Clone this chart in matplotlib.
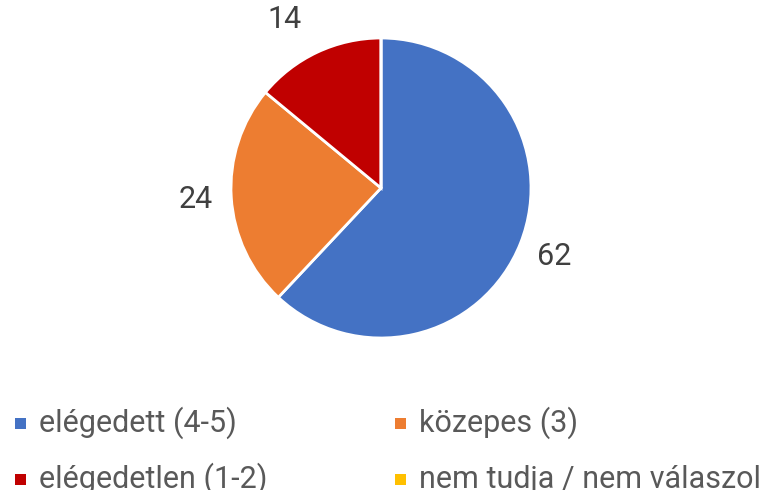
import matplotlib.pyplot as plt
from matplotlib.patches import Rectangle

categories = ['elégedett (4-5)', 'közepes (3)', 'elégedetlen (1-2)', 'nem tudja / nem válaszol']
values = [62, 24, 14, 0]
colors = ['#4472C4', '#ED7D31', '#C00000', '#FFC000']

plt.rcParams['font.family'] = ['Roboto', 'DejaVu Sans']

W, H = 764, 490
fig = plt.figure(figsize=(W / 100, H / 100), dpi=100)

# pie centred at (381, 188) px, radius 150 px
cx, cy, r = 381, 188, 150
ax = fig.add_axes([(cx - r) / W, (H - cy - r) / H, 2 * r / W, 2 * r / H])
labels = [str(v) if v else '' for v in values]
wedges, texts = ax.pie(values, labels=labels, colors=colors, startangle=90, counterclock=False,
                       labeldistance=1.24, wedgeprops=dict(edgecolor='white', linewidth=2),
                       textprops=dict(fontsize=22, color='#404040'))
for t in texts:
    x, y = t.get_position()
    # labels beside the pie are centred, those near the top keep edge alignment
    if abs(x) > 0.6:
        t.set_ha('center')
    t.set_va('center')
ax.set_xlim(-1, 1)
ax.set_ylim(-1, 1)
ax.set_aspect('equal')
ax.axis('off')

# legend drawn by hand, two columns (second row runs off the bottom like the original)
col_x = [15, 395]
row_y = [423, 479]
for i, (cat, c) in enumerate(zip(categories, colors)):
    x = col_x[i % 2]
    y = row_y[i // 2]
    fig.add_artist(Rectangle((x / W, (H - y - 5.5) / H), 11 / W, 11 / H,
                             transform=fig.transFigure, facecolor=c, edgecolor='none'))
    fig.text((x + 24) / W, (H - y) / H, cat, fontsize=22, color='#595959',
             va='center', ha='left')

fig.savefig('out.png', dpi=100)
